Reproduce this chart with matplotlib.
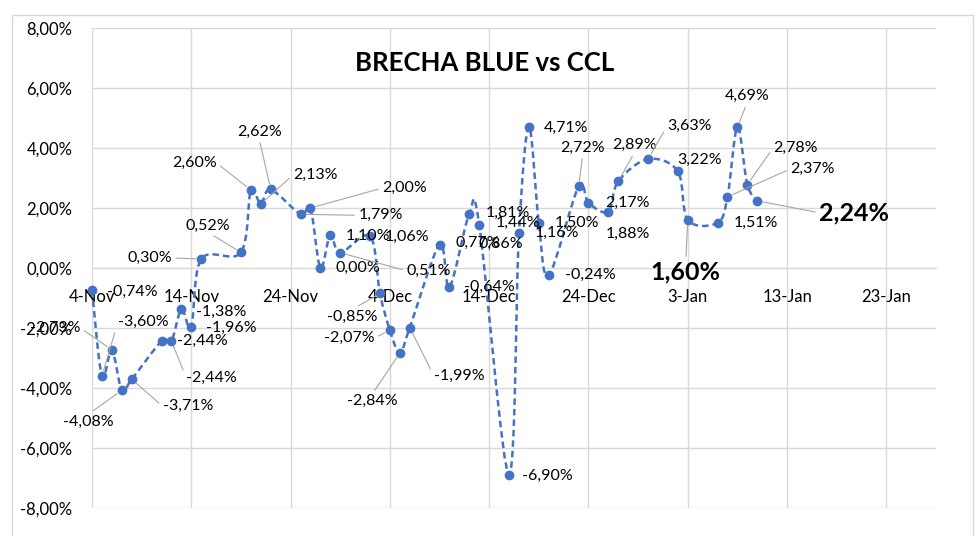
import matplotlib
matplotlib.use('Agg')
import matplotlib.pyplot as plt
import matplotlib.dates as mdates
from matplotlib.path import Path
from matplotlib.patches import PathPatch, Rectangle
from matplotlib.ticker import FuncFormatter, MultipleLocator
import numpy as np
import datetime as dt

# datos: brecha blue vs CCL (%)
dates = ['2019-11-04', '2019-11-05', '2019-11-06', '2019-11-07', '2019-11-08',
         '2019-11-11', '2019-11-12', '2019-11-13', '2019-11-14', '2019-11-15',
         '2019-11-19', '2019-11-20', '2019-11-21', '2019-11-22',
         '2019-11-25', '2019-11-26', '2019-11-27', '2019-11-28', '2019-11-29',
         '2019-12-02', '2019-12-03', '2019-12-04', '2019-12-05', '2019-12-06',
         '2019-12-09', '2019-12-10', '2019-12-12', '2019-12-13',
         '2019-12-16', '2019-12-17', '2019-12-18', '2019-12-19', '2019-12-20',
         '2019-12-23', '2019-12-24', '2019-12-26', '2019-12-27',
         '2019-12-30', '2020-01-02', '2020-01-03',
         '2020-01-06', '2020-01-07', '2020-01-08', '2020-01-09', '2020-01-10']
values = [-0.74, -3.60, -2.73, -4.08, -3.71,
          -2.44, -2.44, -1.38, -1.96, 0.30,
          0.52, 2.60, 2.13, 2.62,
          1.79, 2.00, 0.00, 1.10, 0.51,
          1.06, -0.85, -2.07, -2.84, -1.99,
          0.77, -0.64, 1.81, 1.44,
          -6.90, 1.16, 4.71, 1.50, -0.24,
          2.72, 2.17, 1.88, 2.89,
          3.63, 3.22, 1.60,
          1.51, 2.37, 4.69, 2.78, 2.24]
bold_points = ['2020-01-03', '2020-01-10']
extra_label = ('2019-12-12', '0,86%')

# posicion de las etiquetas (dx, dy en pixeles, lado de la linea guia)
label_layout = [(15, -2, None), (16, 54, 'l'), (-82, 22, 'r'), (-59, -31, 't'), (31, -27, 'l'),
                (15, 0, None), (15, -37, 'l'), (15, -2, None), (15, -1, None), (-74, 1, 'r'),
                (-55, 27, 'b'), (-79, 27, 'r'), (32, 29, 'l'), (-34, 58, 'b'),
                (58, -1, 'l'), (72, 20, 'l'), (15, 0, None), (15, -1, None), (66, -18, 'l'),
                (15, -1, None), (-53, -23, 't'), (-66, -8, 'r'), (-53, -48, 't'), (24, -48, 'l'),
                (16, 2, None), (15, 0, None), (16, 1, None), (16, 2, None),
                (13, -1, None), (16, 0, None), (15, -1, None), (16, 0, None), (16, 0, None),
                (-18, 39, 'b'), (17, 0, None), (-3, -22, None), (-6, 36, 'b'),
                (19, 33, 'l'), (-1, 12, None), (-37, -52, 't'),
                (16, 0, None), (63, 28, 'l'), (-13, 31, 'b'), (26, 37, 'l'), (62, -12, 'l')]
relpos_map = {'l': (0, 0.5), 'r': (1, 0.5), 't': (0.5, 1), 'b': (0.5, 0)}

blue = '#4472C4'
grid_color = '#D9D9D9'
font = 'Lato'
plt.rcParams['font.family'] = [font, 'DejaVu Sans']
label_size = 11.5
big_size = 18

x = mdates.date2num([dt.datetime.strptime(d, '%Y-%m-%d') for d in dates])
y = np.array(values)

fig = plt.figure(figsize=(9.8, 5.36), dpi=100)
fig.patches.append(Rectangle((12 / 980, -0.05), 961 / 980, 1 - 15 / 536 + 0.05,
                             transform=fig.transFigure, fill=False,
                             edgecolor=grid_color, lw=1.0))
ax = fig.add_axes([92 / 980, 1 - 508 / 536, (936 - 92) / 980, 480 / 536])

# linea suavizada (curvas bezier como Excel)
pts = np.column_stack([x, y])
verts = [pts[0]]
codes = [Path.MOVETO]
n = len(pts)
for i in range(n - 1):
    p0 = pts[i - 1] if i > 0 else pts[i]
    p1 = pts[i]
    p2 = pts[i + 1]
    p3 = pts[i + 2] if i + 2 < n else pts[i + 1]
    verts += [p1 + (p2 - p0) / 6, p2 - (p3 - p1) / 6, p2]
    codes += [Path.CURVE4] * 3
ax.add_patch(PathPatch(Path(verts, codes), fill=False, edgecolor=blue, lw=1.8,
                       linestyle=(0, (2.6, 1.6)), zorder=3, clip_on=False))
ax.plot(x, y, linestyle='none', marker='o', markersize=6, color=blue, zorder=4,
        clip_on=False)

# etiquetas
for xi, yi, d, (dx, dy, side) in zip(x, y, dates, label_layout):
    txt = f'{yi:.2f}%'.replace('.', ',')
    bold = d in bold_points
    kw = dict(xy=(xi, yi), xytext=(dx, dy), textcoords='offset pixels',
              ha='left', va='center', fontsize=big_size if bold else label_size,
              fontweight='bold' if bold else 'normal', color='black', zorder=5)
    if side:
        kw['arrowprops'] = dict(arrowstyle='-', color='#A6A6A6', lw=0.8,
                                shrinkA=1, shrinkB=4, relpos=relpos_map[side])
    ax.annotate(txt, **kw)
ex_x = mdates.date2num(dt.datetime.strptime(extra_label[0], '%Y-%m-%d'))
ax.annotate(extra_label[1], xy=(ex_x, values[dates.index(extra_label[0])]), xytext=(9, -30),
            textcoords='offset pixels', ha='left', va='center', fontsize=label_size, zorder=5)

# ejes
start = mdates.date2num(dt.datetime(2019, 11, 4))
ax.set_xlim(start, start + 85)
ax.set_ylim(-8, 8)
ax.set_xticks(start + np.arange(0, 81, 10))
ax.xaxis.set_major_formatter(FuncFormatter(
    lambda v, p: f"{mdates.num2date(v).day}-{mdates.num2date(v).strftime('%b')}"))
ax.yaxis.set_major_locator(MultipleLocator(2))
ax.yaxis.set_major_formatter(FuncFormatter(lambda v, p: f'{v:.2f}%'.replace('.', ',')))
for s in ['top', 'right', 'left']:
    ax.spines[s].set_visible(False)
ax.spines['bottom'].set_position(('data', 0))
ax.spines['bottom'].set_color(grid_color)
ax.grid(True, color=grid_color, lw=1.0)
ax.set_axisbelow(True)
ax.tick_params(axis='both', length=0, labelsize=12)
ax.tick_params(axis='y', pad=14)
ax.tick_params(axis='x', pad=15)

fig.text(485 / 980, 1 - 63 / 536, 'BRECHA BLUE vs CCL', ha='center', va='center',
         fontsize=18.5, fontweight='bold')

plt.savefig('out.png', dpi=100)
